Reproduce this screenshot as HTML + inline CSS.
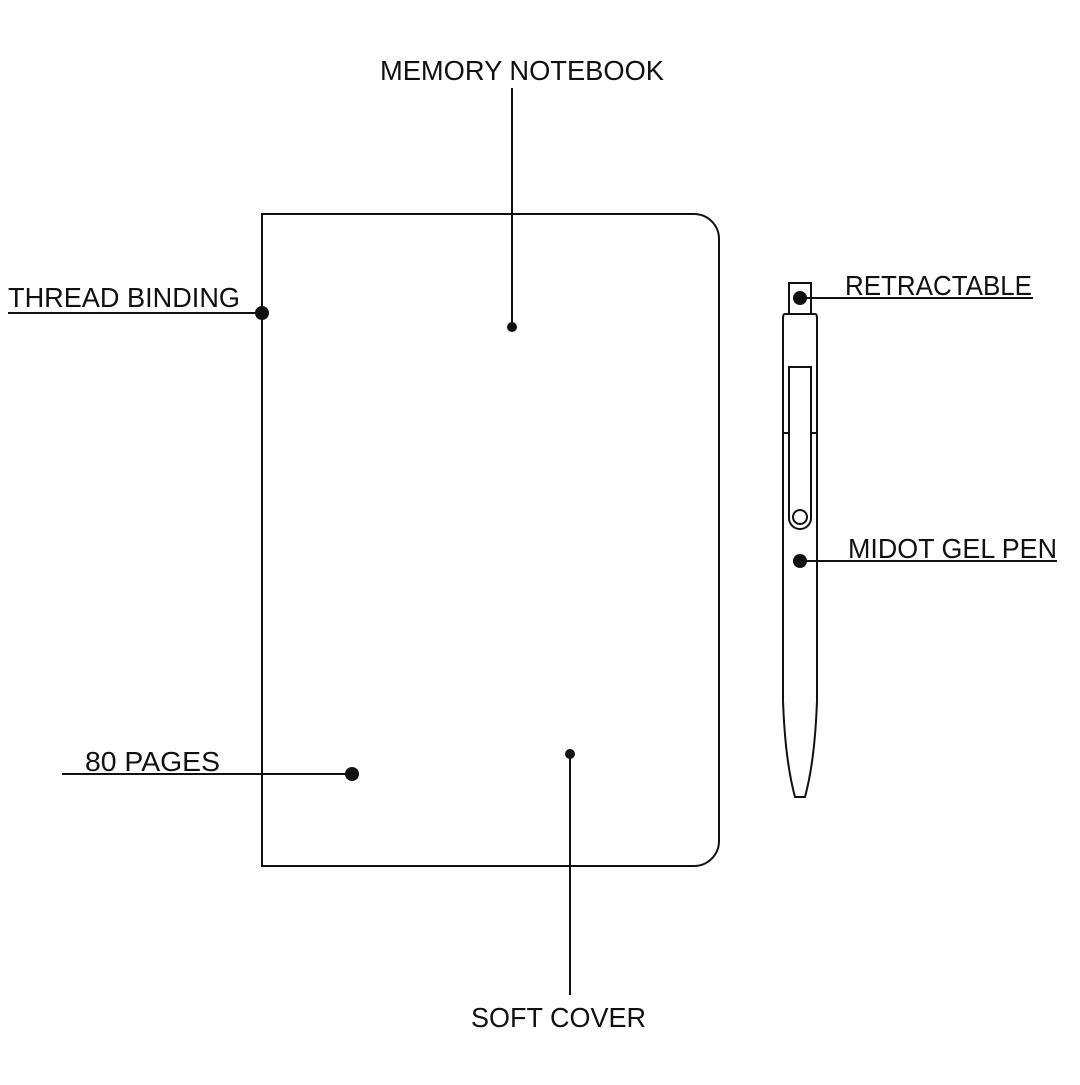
<!DOCTYPE html>
<html><head><style>html,body{margin:0;padding:0;background:#fff}</style></head>
<body>
<svg width="1080" height="1080" viewBox="0 0 1080 1080" xmlns="http://www.w3.org/2000/svg" font-family="Liberation Sans, sans-serif" font-size="28" fill="#111">
<rect width="1080" height="1080" fill="#fff"/>
<g fill="none" stroke="#111" stroke-width="2">
<path d="M262 214 H694 A25 25 0 0 1 719 239 V841 A25 25 0 0 1 694 866 H262 Z"/>
<rect x="789" y="283" width="22" height="31"/>
<path d="M785 314 H815 Q817 314 817 318 V700 Q815 760 805 797 H795 Q785 760 783 700 V318 Q783 314 785 314 Z"/>
<path d="M789 367 H811 V518 A11 11 0 0 1 789 518 Z"/>
<circle cx="800" cy="517" r="7"/>
<line x1="783" y1="433" x2="789" y2="433"/><line x1="811" y1="433" x2="817" y2="433"/>
<line x1="512" y1="88" x2="512" y2="327"/>
<line x1="8" y1="313" x2="262" y2="313"/>
<line x1="800" y1="298" x2="1033" y2="298"/>
<line x1="800" y1="561" x2="1057" y2="561"/>
<line x1="62" y1="774" x2="352" y2="774"/>
<line x1="570" y1="754" x2="570" y2="995"/>
</g>
<g fill="#111">
<circle cx="512" cy="327" r="5"/>
<circle cx="262" cy="313" r="7"/>
<circle cx="800" cy="298" r="7"/>
<circle cx="800" cy="561" r="7"/>
<circle cx="352" cy="774" r="7"/>
<circle cx="570" cy="754" r="5"/>
</g>
<text x="380" y="80" textLength="284" lengthAdjust="spacingAndGlyphs">MEMORY NOTEBOOK</text>
<text x="8" y="307" textLength="232" lengthAdjust="spacingAndGlyphs">THREAD BINDING</text>
<text x="845" y="295" textLength="187" lengthAdjust="spacingAndGlyphs">RETRACTABLE</text>
<text x="848" y="558" textLength="209" lengthAdjust="spacingAndGlyphs">MIDOT GEL PEN</text>
<text x="85" y="771" textLength="135" lengthAdjust="spacingAndGlyphs">80 PAGES</text>
<text x="471" y="1027" textLength="175" lengthAdjust="spacingAndGlyphs">SOFT COVER</text>
</svg>
</body></html>
